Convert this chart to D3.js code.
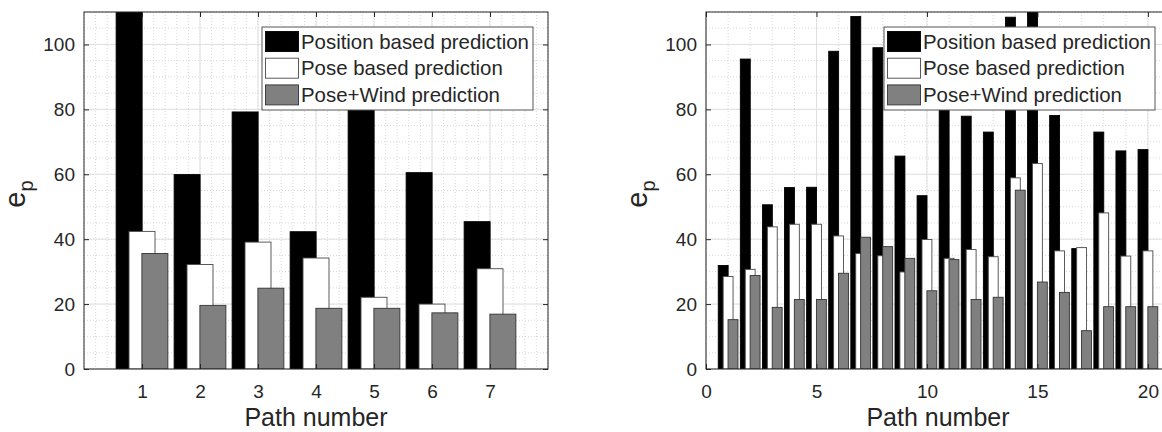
<!DOCTYPE html>
<html>
<head>
<meta charset="utf-8">
<script src="https://cdn.jsdelivr.net/npm/d3@7"></script>
<style>
  body { margin: 0; background: #fff; }
  svg { display: block; font-family: "Liberation Sans", Arial, Helvetica, sans-serif; }
</style>
</head>
<body>
<svg id="chart" width="1162" height="432"></svg>
<script>
// legend / series
var seriesNames = ['Position based prediction', 'Pose based prediction', 'Pose+Wind prediction'];
var seriesFill = ['#000000', '#ffffff', '#808080'];
var seriesStroke = ['#000000', '#4a4a4a', '#333333'];

// left panel: 7 paths
var leftPaths = [1, 2, 3, 4, 5, 6, 7];
var leftPosition = [118, 59.9, 79.2, 42.3, 92, 60.5, 45.4];
var leftPose = [42.4, 32.2, 39.1, 34.2, 22.1, 20.0, 30.9];
var leftPoseWind = [35.6, 19.6, 24.9, 18.7, 18.7, 17.3, 16.9];

// right panel: 20 paths
var rightPaths = [1, 2, 3, 4, 5, 6, 7, 8, 9, 10, 11, 12, 13, 14, 15, 16, 17, 18, 19, 20];
var rightPosition = [31.9, 95.5, 50.6, 55.9, 56, 97.9, 108.6, 99, 65.6, 53.4, 88, 77.9, 73, 108.4, 115, 78.1, 37.1, 73, 67.2, 67.6];
var rightPose = [28.5, 30.7, 43.8, 44.6, 44.6, 41.0, 35.6, 34.9, 29.9, 39.9, 34.1, 36.8, 34.6, 58.9, 63.3, 36.4, 37.4, 48.1, 34.8, 36.4];
var rightPoseWind = [15.2, 28.8, 19.0, 21.4, 21.4, 29.5, 40.6, 37.7, 34.1, 24.1, 33.7, 21.4, 22.1, 55.1, 26.8, 23.6, 11.8, 19.2, 19.2, 19.2];

// ticks
var leftXTicks = [1, 2, 3, 4, 5, 6, 7];
var rightXTicks = [0, 5, 10, 15, 20];
var yTicks = [0, 20, 40, 60, 80, 100];

var svg = d3.select('#chart');
var plotTop = 12, plotBottom = 369;
var axisColor = '#262626';

function drawPanel(p) {
  var g = svg.append('g');
  var x = d3.scaleLinear().domain([0, p.xMax]).range([p.left, p.right]);
  var y = d3.scaleLinear().domain([0, 110]).range([plotBottom, plotTop]);

  var clipId = 'clip' + p.id;
  svg.append('clipPath').attr('id', clipId)
    .append('rect')
    .attr('x', p.left).attr('y', plotTop)
    .attr('width', p.right - p.left).attr('height', plotBottom - plotTop);

  // minor grid (dotted)
  var minorX = d3.range(0, p.xMax + 1e-6, p.minorStep);
  var minorY = d3.range(0, 110 + 1e-6, 5);
  g.append('g').selectAll('line').data(minorX).join('line')
    .attr('x1', d => x(d)).attr('x2', d => x(d))
    .attr('y1', plotTop).attr('y2', plotBottom)
    .attr('stroke', '#cfcfcf').attr('stroke-width', 0.8)
    .attr('stroke-dasharray', '1,2');
  g.append('g').selectAll('line').data(minorY).join('line')
    .attr('x1', p.left).attr('x2', p.right)
    .attr('y1', d => y(d)).attr('y2', d => y(d))
    .attr('stroke', '#cfcfcf').attr('stroke-width', 0.8)
    .attr('stroke-dasharray', '1,2');

  // major grid
  g.append('g').selectAll('line').data(p.xTicks).join('line')
    .attr('x1', d => x(d)).attr('x2', d => x(d))
    .attr('y1', plotTop).attr('y2', plotBottom)
    .attr('stroke', '#e0e0e0').attr('stroke-width', 1);
  g.append('g').selectAll('line').data(yTicks).join('line')
    .attr('x1', p.left).attr('x2', p.right)
    .attr('y1', d => y(d)).attr('y2', d => y(d))
    .attr('stroke', '#e0e0e0').attr('stroke-width', 1);

  // bars
  var offsets = [-0.222, 0, 0.222];
  var barW = 0.448;
  var bars = g.append('g').attr('clip-path', 'url(#' + clipId + ')');
  p.series.forEach((vals, s) => {
    bars.append('g').selectAll('rect').data(vals).join('rect')
      .attr('x', (d, i) => x(p.paths[i] + offsets[s] - barW / 2))
      .attr('width', x(barW) - x(0))
      .attr('y', d => y(d))
      .attr('height', d => y(0) - y(d))
      .attr('fill', seriesFill[s])
      .attr('stroke', seriesStroke[s])
      .attr('stroke-width', 0.9);
  });

  // axes (ticks point inward)
  var xAxis = d3.axisBottom(x).tickValues(p.xTicks).tickSizeInner(-5).tickSizeOuter(0).tickPadding(16);
  var xTop = d3.axisTop(x).tickValues(p.xTicks).tickSizeInner(-5).tickSizeOuter(0).tickFormat('');
  var yAxis = d3.axisLeft(y).tickValues(yTicks).tickSizeInner(-5).tickSizeOuter(0).tickPadding(9);
  var yRight = d3.axisRight(y).tickValues(yTicks).tickSizeInner(-5).tickSizeOuter(0).tickFormat('');

  [
    g.append('g').attr('transform', 'translate(0,' + plotBottom + ')').call(xAxis),
    g.append('g').attr('transform', 'translate(0,' + plotTop + ')').call(xTop),
    g.append('g').attr('transform', 'translate(' + p.left + ',0)').call(yAxis),
    g.append('g').attr('transform', 'translate(' + p.right + ',0)').call(yRight)
  ].forEach(a => {
    a.select('.domain').remove();
    a.selectAll('line').attr('stroke', axisColor);
    a.selectAll('text').attr('fill', axisColor).style('font-size', '19px');
  });

  g.append('rect')
    .attr('x', p.left).attr('y', plotTop)
    .attr('width', p.right - p.left).attr('height', plotBottom - plotTop)
    .attr('fill', 'none').attr('stroke', axisColor).attr('stroke-width', 1);

  // axis labels
  g.append('text')
    .attr('x', (p.left + p.right) / 2).attr('y', 426)
    .attr('text-anchor', 'middle')
    .attr('fill', axisColor)
    .style('font-size', '25px')
    .text('Path number');

  var yl = g.append('text')
    .attr('transform', 'translate(' + (p.left - 59) + ',' + 194 + ') rotate(-90)')
    .attr('text-anchor', 'middle')
    .attr('fill', axisColor)
    .style('font-size', '29px');
  yl.append('tspan').text('e');
  yl.append('tspan').attr('dy', 8).style('font-size', '20px').text('p');

  // legend
  var lg = g.append('g').attr('transform', 'translate(' + p.legendX + ',27)');
  lg.append('rect').attr('width', 271).attr('height', 83)
    .attr('fill', '#fff').attr('stroke', '#555').attr('stroke-width', 1);
  seriesNames.forEach((name, s) => {
    var ry = 4.5 + s * 26.7;
    lg.append('rect').attr('x', 3.5).attr('y', ry).attr('width', 33).attr('height', 20)
      .attr('fill', seriesFill[s]).attr('stroke', seriesStroke[s]).attr('stroke-width', 0.9);
    lg.append('text').attr('x', 39).attr('y', ry + 17)
      .attr('fill', axisColor).style('font-size', '20.4px')
      .text(name);
  });
}

drawPanel({
  id: 'L', left: 84, right: 548, xMax: 8, minorStep: 0.2,
  paths: leftPaths, xTicks: leftXTicks, legendX: 262,
  series: [leftPosition, leftPose, leftPoseWind]
});
drawPanel({
  id: 'R', left: 706, right: 1170, xMax: 21, minorStep: 1,
  paths: rightPaths, xTicks: rightXTicks, legendX: 884,
  series: [rightPosition, rightPose, rightPoseWind]
});
</script>
</body>
</html>
